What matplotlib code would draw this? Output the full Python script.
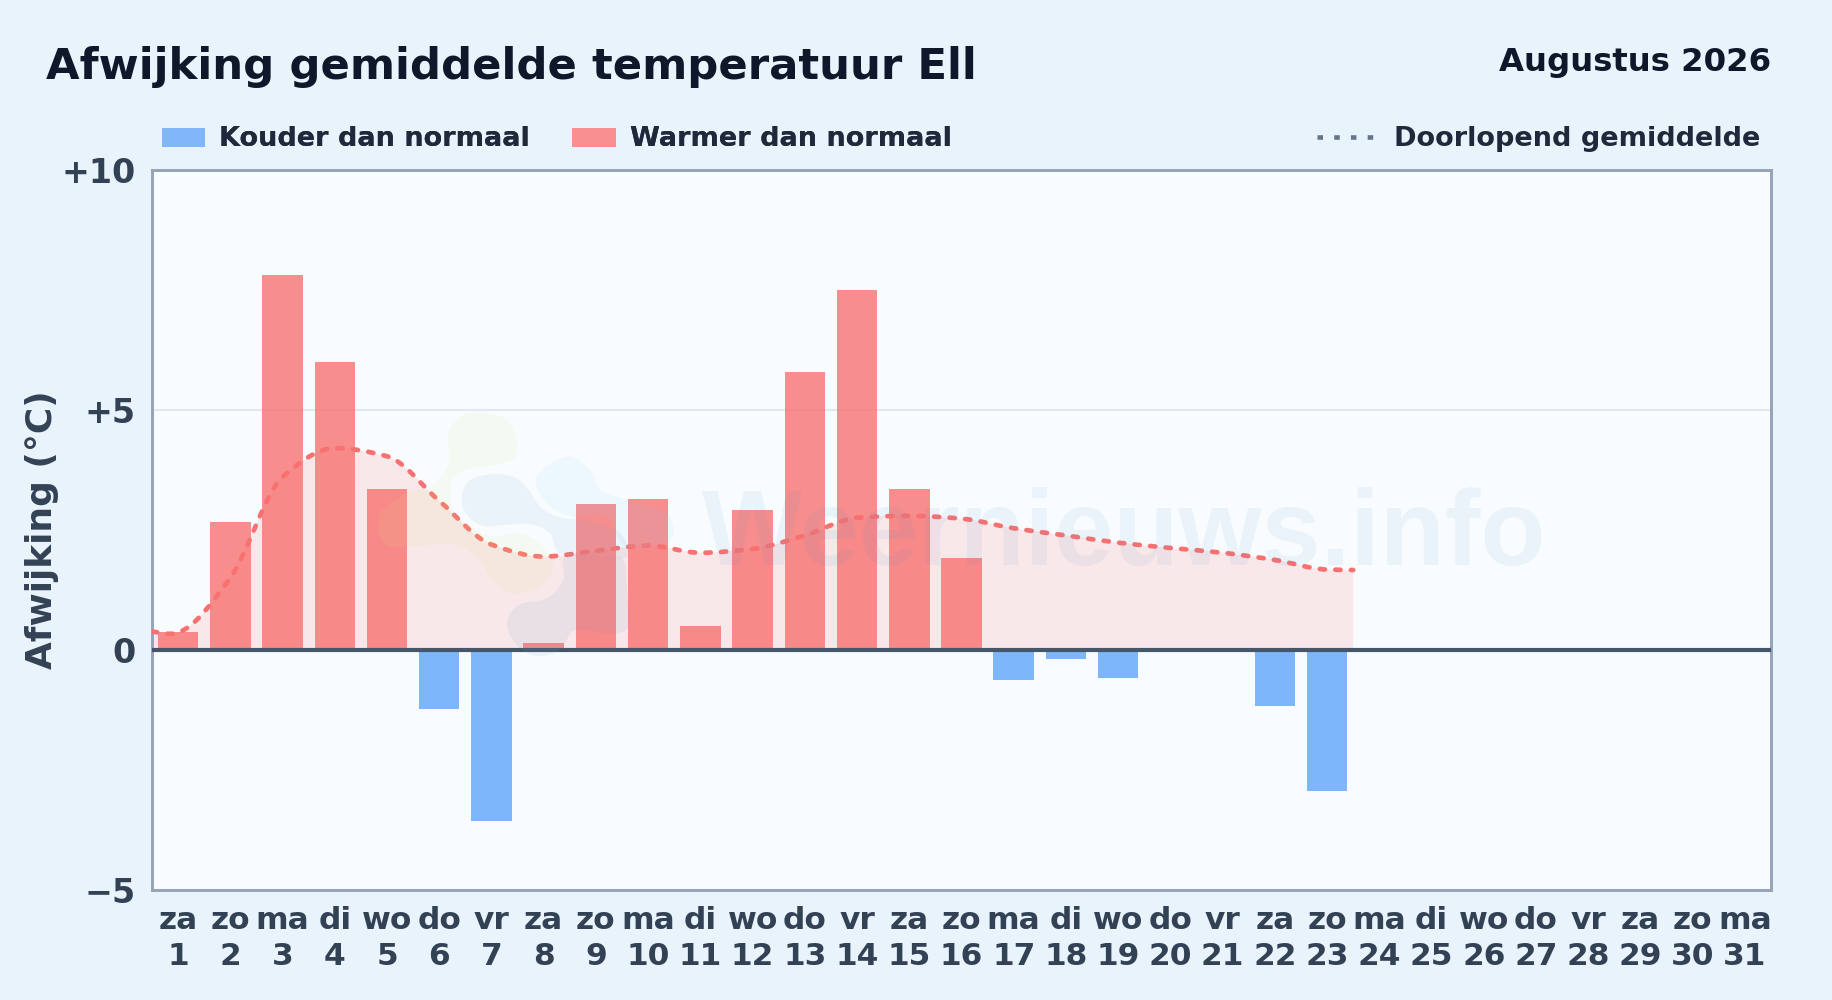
import numpy as np
import matplotlib
matplotlib.use("Agg")
import matplotlib.pyplot as plt
from matplotlib.patches import PathPatch, Patch
from matplotlib.path import Path
from matplotlib.lines import Line2D

days = list(range(1, 32))
weekdays = ["za", "zo", "ma", "di", "wo", "do", "vr", "za", "zo", "ma", "di", "wo", "do", "vr", "za", "zo",
            "ma", "di", "wo", "do", "vr", "za", "zo", "ma", "di", "wo", "do", "vr", "za", "zo", "ma"]
deviation = [0.36, 2.67, 7.8, 6.0, 3.35, -1.24, -3.57, 0.15, 3.03, 3.13, 0.49, 2.91, 5.78, 7.5, 3.35, 1.92,
             -0.63, -0.19, -0.58, 0.0, 0.0, -1.17, -2.94]
running_days = [0.5, 0.85, 1, 2, 3, 4, 5, 6, 7, 8, 9, 10, 11, 12, 13, 14, 15, 16, 17, 18, 19, 20, 21, 22, 23, 23.5]
running_mean = [0.38, 0.33, 0.36, 1.5, 3.6, 4.2, 4.03, 3.1, 2.19, 1.94, 2.06, 2.17, 2.02, 2.1, 2.38, 2.75, 2.79,
                2.73, 2.53, 2.38, 2.23, 2.12, 2.02, 1.87, 1.67, 1.66]
y_ticks = [-5, 0, 5, 10]
y_labels = ["\u22125", "0", "+5", "+10"]

RED = "#f87171"
BLUE = "#60a5fa"
W, H = 1832, 1000


def smooth_path(xs, ys, closed_to_zero=False):
    # monotone cubic tangents, written as bezier segments
    xs = np.array(xs, dtype=float)
    ys = np.array(ys, dtype=float)
    d = np.diff(ys) / np.diff(xs)
    m = np.zeros(len(xs))
    m[0], m[-1] = d[0], d[-1]
    for i in range(1, len(xs) - 1):
        if d[i - 1] * d[i] > 0:
            m[i] = 2 * d[i - 1] * d[i] / (d[i - 1] + d[i])
    verts = [(xs[0], ys[0])]
    codes = [Path.MOVETO]
    for i in range(len(xs) - 1):
        h = (xs[i + 1] - xs[i]) / 3
        verts += [(xs[i] + h, ys[i] + m[i] * h), (xs[i + 1] - h, ys[i + 1] - m[i + 1] * h), (xs[i + 1], ys[i + 1])]
        codes += [Path.CURVE4] * 3
    if closed_to_zero:
        verts += [(xs[-1], 0), (xs[0], 0), (xs[0], ys[0])]
        codes += [Path.LINETO, Path.LINETO, Path.CLOSEPOLY]
    return Path(verts, codes)


def blob(fig, pts, color, alpha=0.1):
    pts = np.array(pts, dtype=float) / 3 + [360, 400]
    n = len(pts)
    verts = [pts[0]]
    codes = [Path.MOVETO]
    for i in range(n):
        p0, p1, p2, p3 = pts[i - 1], pts[i], pts[(i + 1) % n], pts[(i + 2) % n]
        verts += [p1 + (p2 - p0) / 6, p2 - (p3 - p1) / 6, p2]
        codes += [Path.CURVE4] * 3
    verts = np.array(verts) / [W, H]
    verts[:, 1] = 1 - verts[:, 1]
    fig.add_artist(PathPatch(Path(verts, codes), facecolor=color, edgecolor="none", alpha=alpha,
                             transform=fig.transFigure, zorder=20))


def main():
    fig = plt.figure(figsize=(W / 100, H / 100), dpi=100, facecolor="#e8f3fc")
    ax = fig.add_axes([152 / W, 1 - 889.7 / H, 1619 / W, 720 / H], facecolor="#f8fcff")

    colors = [RED if v > 0 else BLUE for v in deviation]
    ax.bar(days[:len(deviation)], deviation, width=0.775, color=colors, alpha=0.8, linewidth=0, zorder=3)

    ax.add_patch(PathPatch(smooth_path(running_days, running_mean, True), facecolor="#fb7070", alpha=0.14,
                           edgecolor="none", zorder=2))
    ax.add_patch(PathPatch(smooth_path(running_days, running_mean), facecolor="none", edgecolor=RED,
                           linewidth=3.4, linestyle=(0, (1.1, 2.2)), capstyle="round", zorder=4))

    ax.axhline(0, color="#475569", linewidth=3, zorder=5)
    ax.set_xlim(0.5, 31.5)
    ax.set_ylim(-5, 10)
    ax.grid(axis="y", color="#e2e8f0", linewidth=1.5, zorder=1)
    ax.set_axisbelow(True)

    ax.set_yticks(y_ticks)
    ax.set_yticklabels(y_labels, fontsize=24, fontweight="bold", color="#334155")
    ax.set_xticks(days)
    ax.set_xticklabels([f"{w}\n{d}" for w, d in zip(weekdays, days)], fontsize=22.5, fontweight="bold",
                       color="#334155", linespacing=1.27)
    ax.tick_params(axis="x", length=0, pad=12)
    ax.tick_params(axis="y", length=0, pad=12)
    ax.set_ylabel("Afwijking (°C)", fontsize=25.9, fontweight="bold", color="#334155", labelpad=1.4)
    for s in ax.spines.values():
        s.set_color("#94a3b8")
        s.set_linewidth(2.1)

    fig.text(46 / W, 1 - 67 / H, "Afwijking gemiddelde temperatuur Ell", fontsize=31.2, fontweight="bold",
             color="#0f172a", va="center")
    fig.text(1771 / W, 1 - 62 / H, "Augustus 2026", fontsize=23.3, fontweight="bold", color="#0f172a",
             va="center", ha="right")

    # legend is placed by hand, left pair and right entry
    left = fig.legend(handles=[Patch(facecolor="#80b7fb", label="Kouder dan normaal"),
                               Patch(facecolor="#f99090", label="Warmer dan normaal")],
                      loc="center left", bbox_to_anchor=(162 / W, 1 - 139.5 / H), ncol=2, frameon=False,
                      prop={"size": 19.5, "weight": "bold"}, labelcolor="#1e293b", handlelength=1.6,
                      handleheight=0.7, handletextpad=0.52, columnspacing=1.56, borderpad=0, borderaxespad=0)
    fig.add_artist(left)
    fig.legend(handles=[Line2D([], [], color="#64748b", linewidth=3.3, linestyle=(0, (1.2, 2.45)),
                               label="Doorlopend gemiddelde")],
               loc="center right", bbox_to_anchor=(1760 / W, 1 - 139.5 / H), frameon=False,
               prop={"size": 19.5, "weight": "bold"}, labelcolor="#1e293b", handlelength=2.05,
               handletextpad=0.78, borderpad=0, borderaxespad=0)

    # faint logo and site name over the plot
    blob(fig, [(265, 100), (300, 50), (370, 40), (440, 60), (470, 120), (460, 175), (400, 195), (330, 205),
               (280, 235), (270, 290), (290, 350), (340, 385), (400, 410), (470, 400), (540, 430), (580, 500),
               (540, 560), (460, 580), (395, 540), (350, 470), (270, 432), (150, 440), (70, 430), (60, 340),
               (140, 280), (215, 260), (265, 190)], "#d6e87a")
    blob(fig, [(305, 290), (330, 240), (400, 222), (470, 235), (510, 275), (545, 325), (610, 355), (680, 360),
               (780, 400), (800, 470), (720, 470), (600, 460), (570, 400), (510, 372), (430, 375), (370, 378),
               (320, 345)], "#78a5d0")
    blob(fig, [(530, 230), (620, 170), (690, 210), (720, 270), (800, 300), (920, 340), (930, 420), (800, 440),
               (740, 350), (640, 350), (560, 310)], "#86cdf8")
    blob(fig, [(440, 670), (475, 615), (560, 595), (610, 540), (615, 470), (720, 470), (790, 480), (800, 560),
               (805, 680), (740, 700), (645, 690), (600, 750), (530, 768), (470, 735)], "#6a9ac8")
    fig.text(1124 / W, 1 - 565 / H, "Weernieuws.info", fontsize=76.7, fontweight="bold", color="#4d8ec3",
             alpha=0.08, ha="center", va="baseline", family="Liberation Sans", zorder=20)

    fig.savefig("out.png", dpi=100, facecolor=fig.get_facecolor())


if __name__ == "__main__":
    main()
